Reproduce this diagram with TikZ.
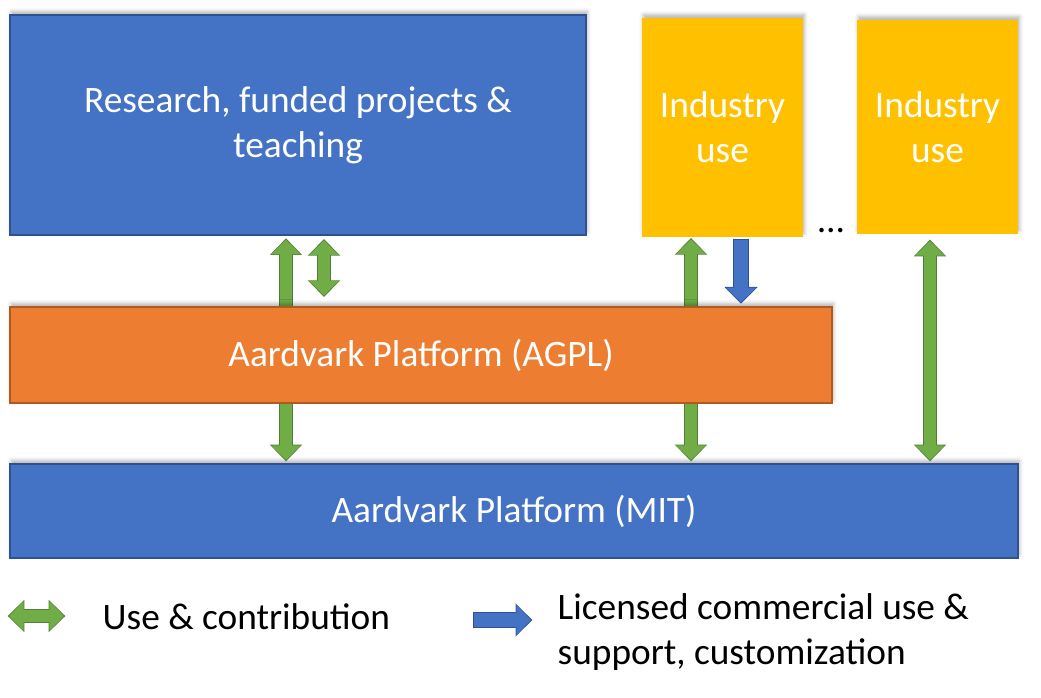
\documentclass[tikz,border=0pt]{standalone}
\usepackage{fontspec}
\setmainfont{Carlito}
\usetikzlibrary{arrows.meta,shadows.blur}

\definecolor{boxblue}{HTML}{4472C4}
\definecolor{blueedge}{HTML}{2F528F}
\definecolor{agplorange}{HTML}{ED7D31}
\definecolor{orangeedge}{HTML}{AE5A21}
\definecolor{indyellow}{HTML}{FFC000}
\definecolor{usegreen}{HTML}{70AD47}
\definecolor{greenedge}{HTML}{507E32}

\tikzset{
  box/.style={rectangle, inner sep=0pt, align=center, text=white,
    font=\fontsize{28}{33.75}\selectfont,
    blur shadow={shadow xshift=1pt, shadow yshift=2.5pt, shadow blur radius=3pt, shadow opacity=30}},
  bluebox/.style={box, draw=blueedge, line width=1pt, fill=boxblue},
  orangebox/.style={box, draw=orangeedge, line width=1pt, fill=agplorange},
  yellowbox/.style={box, fill=indyellow},
  legendtext/.style={align=left, font=\fontsize{28}{33.75}\selectfont},
  % #1, #2: gap left at the start and at the end
  usearrow/.style 2 args={draw=usegreen, line width=9.5pt, shorten <=#1, shorten >=#2,
    arrows={Triangle[length=11pt,width=21.5pt]-Triangle[length=11pt,width=21.5pt]},
    preaction={draw=greenedge, line width=11pt, shorten <=#1-1pt, shorten >=#2-1pt,
      arrows={Triangle[length=12.5pt,width=23.5pt]-Triangle[length=12.5pt,width=23.5pt]}}},
  licarrow/.style 2 args={draw=boxblue, line width=10.5pt, shorten <=#1, shorten >=#2,
    arrows={-Triangle[length=11pt,width=22pt]},
    preaction={draw=blueedge, line width=12pt, shorten <=#1-1pt, shorten >=#2-1pt,
      arrows={-Triangle[length=12.5pt,width=24pt]}}}
}

\begin{document}
\begin{tikzpicture}[x=0.75pt, y=-0.75pt]
    \useasboundingbox (0,0) rectangle (1041,698);

    % boxes
    \node [bluebox, minimum width=432pt, minimum height=165pt] (res) at (298,125) {Research, funded projects \&\\teaching};
    \node [yellowbox, minimum width=120.75pt, minimum height=164.25pt] (ind1) at (722.5,127.5) {Industry\\use};
    \node [yellowbox, minimum width=120.75pt, minimum height=160.5pt] (ind2) at (937.5,127) {Industry\\use};
    \node [anchor=base, font=\fontsize{28}{33.75}\selectfont] (dots) at (831,233) {\dots};
    \node [bluebox, minimum width=756pt, minimum height=70.5pt] (mit) at (514,511) {Aardvark Platform (MIT)};

    % arrow columns
    \coordinate (c1) at (286,0);
    \coordinate (c2) at (324,0);
    \coordinate (c3) at (691,0);
    \coordinate (c4) at (741,0);
    \coordinate (c5) at (930,0);

    % long arrows, behind the AGPL box
    \draw [usearrow={3pt}{2.5pt}] (res.south -| c1) -- (mit.north -| c1);
    \draw [usearrow={1.5pt}{2.5pt}] (ind1.south -| c3) -- (mit.north -| c3);
    \draw [usearrow={5pt}{2.5pt}] (ind2.south -| c5) -- (mit.north -| c5);

    \node [orangebox, minimum width=616.5pt, minimum height=72pt] (agpl) at (421,355) {Aardvark Platform (AGPL)};

    % short arrows
    \draw [usearrow={3.5pt}{8pt}] (res.south -| c2) -- (agpl.north -| c2);
    \draw [licarrow={2pt}{3pt}] (ind1.south -| c4) -- (agpl.north -| c4);

    % legend
    \coordinate (lg1) at (9,616);
    \coordinate (lg2) at (64,616);
    \coordinate (lb1) at (474,620);
    \coordinate (lb2) at (531,620);
    \draw [usearrow={0pt}{0pt}] (lg1) -- (lg2);
    \draw [licarrow={0pt}{0pt}] (lb1) -- (lb2);
    \node [legendtext, anchor=west] (usetext) at (98,617) {Use \& contribution};
    \node [legendtext, anchor=west] (lictext) at (553,632) {Licensed commercial use \&\\support, customization};
\end{tikzpicture}
\end{document}
